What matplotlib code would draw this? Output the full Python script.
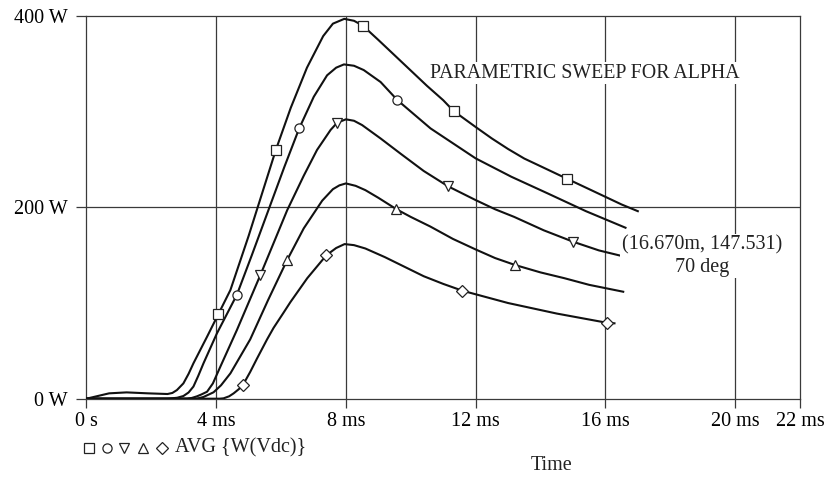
import matplotlib
matplotlib.use("Agg")
import matplotlib.pyplot as plt
from matplotlib.lines import Line2D

plt.rcParams['font.family'] = ['Liberation Serif', 'DejaVu Serif']

# ---- data (time in ms, power in W) ----
t_sq = [0, 0.7, 1.24, 1.9, 2.5, 2.65, 2.79, 2.99, 3.15, 3.3, 3.72, 4.07, 4.44, 5.0, 5.84, 6.3, 6.8, 7.3,
        7.6, 7.95, 8.25, 8.52, 9.0, 9.5, 10.0, 10.5, 11.0, 11.32, 12.0, 12.5, 13.0, 13.5, 14.0, 14.81,
        15.5, 16.0, 16.5, 17.0]
p_sq = [0, 5.6, 6.6, 5.6, 4.9, 6, 9, 16, 26, 37, 64.8, 88.5, 113.6, 170, 260, 304, 346, 379,
        392, 397, 395, 390, 375, 359, 343, 327, 312, 300.7, 284, 272, 261, 251, 243, 230,
        219, 211, 203, 196]
mt_sq = [4.07, 5.84, 8.52, 11.32, 14.81]
mp_sq = [88.5, 260, 390, 300.7, 229.9]

t_ci = [0, 2.5, 2.6, 2.8, 2.99, 3.15, 3.30, 3.45, 3.61, 4.02, 4.64, 5.1, 5.6, 6.1, 6.56, 7.01, 7.42,
        7.7, 7.94, 8.25, 8.55, 9.07, 9.59, 10.61, 12.0, 13.1, 14.22, 15.4, 16.62]
p_ci = [0, 0, 0.3, 1, 2.8, 6.5, 12.7, 24, 37, 68, 108.7, 150, 196, 242, 282.5, 315.6, 338,
        346, 349.4, 348, 343.5, 331, 312, 282.5, 251.2, 232, 214.6, 196, 178.7]
mt_ci = [4.64, 6.56, 9.59]
mp_ci = [108.7, 282.5, 312]

t_dt = [0, 3.1, 3.25, 3.41, 3.55, 3.72, 3.9, 4.13, 4.64, 5.36, 5.8, 6.19, 6.7, 7.11, 7.53, 7.73, 8.0,
        8.25, 8.5, 9.07, 9.69, 10.4, 11.15, 12.0, 12.6, 13.19, 14.1, 15.01, 15.8, 16.67]
p_dt = [0, 0, 0.8, 2.5, 4.5, 7.3, 16, 33.5, 71.8, 129, 165, 197, 233, 260, 281, 288.4, 292,
        290.5, 286, 272, 256, 238, 222, 207.6, 198, 190, 176, 164, 155, 147.8]
mt_dt = [5.36, 7.73, 11.15, 15.01]
mp_dt = [129, 288.4, 222, 164]

t_ut = [0, 3.4, 3.61, 3.92, 4.15, 4.44, 5.05, 5.6, 6.19, 6.7, 7.27, 7.6, 7.8, 8.0, 8.3, 8.6, 9.0,
        9.56, 10.0, 10.6, 11.3, 12.0, 12.6, 13.22, 14.0, 14.73, 15.5, 16.55]
p_ut = [0, 0, 1.8, 6.7, 14, 26.5, 62, 103, 145, 178, 207, 219, 223, 225, 222.5, 218, 210,
        198, 190, 180, 167, 156, 147, 139.7, 132, 126, 119, 111.8]
mt_ut = [6.19, 9.56, 13.22]
mp_ut = [145, 198, 139.7]

t_di = [0, 4.1, 4.23, 4.4, 4.54, 4.7, 4.83, 5.05, 5.26, 5.57, 5.77, 6.08, 6.29, 6.81, 7.4, 7.7, 7.96,
        8.25, 8.6, 9.2, 9.8, 10.4, 11.0, 11.59, 13.0, 14.5, 16.04, 16.28]
p_di = [0, 0, 0.4, 2.5, 5.6, 10, 14.6, 28, 42, 62, 74, 90, 101, 126, 150, 157.5, 161.6,
        160.5, 157, 148, 138, 128, 120, 112.9, 100, 89, 79.4, 78.8]
mt_di = [4.83, 7.4, 11.59, 16.04]
mp_di = [14.6, 150, 112.9, 79.4]

x_ticks = [0, 4, 8, 12, 16, 20, 22]
x_labels = ["0 s", "4 ms", "8 ms", "12 ms", "16 ms", "20 ms", "22 ms"]
y_ticks = [0, 200, 400]
y_labels = ["0 W", "200 W", "400 W"]

W, H = 838, 479
fig = plt.figure(figsize=(W / 100, H / 100), dpi=100)
ax = fig.add_axes([86.4 / W, 1 - 398.7 / H, (800 - 86.4) / W, (398.7 - 16) / H])
ax.set_xlim(0, 22)
ax.set_ylim(0, 400)

gc = '#3a3a3a'
for x in [4, 8, 12, 16, 20]:
    ax.axvline(x, color=gc, lw=0.9, zorder=1)
ax.axhline(200, color=gc, lw=0.9, zorder=1)
for s in ax.spines.values():
    s.set_color(gc)
    s.set_linewidth(0.9)

series = [(t_sq, p_sq, mt_sq, mp_sq, 's'),
          (t_ci, p_ci, mt_ci, mp_ci, 'o'),
          (t_dt, p_dt, mt_dt, mp_dt, 'v'),
          (t_ut, p_ut, mt_ut, mp_ut, '^'),
          (t_di, p_di, mt_di, mp_di, 'D')]
msz = {'s': 6.6, 'o': 6.6, 'v': 7.0, '^': 7.0, 'D': 6.0}
for t, p, mt, mp, m in series:
    ax.plot(t, p, color='#111111', lw=1.5, zorder=3, solid_joinstyle='round')
    ax.plot(mt, mp, ls='none', marker=m, ms=msz[m], mfc='white', mec='#222222',
            mew=0.9, zorder=4)

ax.set_xticks(x_ticks)
ax.set_xticklabels(x_labels)
ax.set_yticks(y_ticks)
ax.set_yticklabels(y_labels)
ax.tick_params(axis='x', length=6.5, width=0.9, color=gc, pad=3, labelsize=14.5)
ax.tick_params(axis='y', length=7.2, width=0.9, color=gc, pad=6, labelsize=14.5)

fig.text(430 / W, 1 - 73 / H, "PARAMETRIC SWEEP FOR ALPHA", fontsize=14.3, ha='left', va='center',
         color='#222222', bbox=dict(facecolor='white', edgecolor='none', pad=1))
fig.text(702 / W, 1 - 256 / H, "(16.670m, 147.531)\n70 deg", fontsize=14.5, ha='center', va='center',
         color='#222222', linespacing=1.25, bbox=dict(facecolor='white', edgecolor='none', pad=1))

# legend-like row below the axis
leg_x = [89, 107, 124, 143, 162]
leg_m = ['s', 'o', 'v', '^', 'D']
for x, m in zip(leg_x, leg_m):
    fig.add_artist(Line2D([x / W], [1 - 448 / H], marker=m, ms=msz[m], mfc='white',
                          mec='#222222', mew=0.9, ls='none', transform=fig.transFigure))
fig.text(175 / W, 1 - 448 / H, "AVG {W(Vdc)}", fontsize=14.5, ha='left', va='center', color='#222222')
fig.text(552 / W, 1 - 466 / H, "Time", fontsize=14.5, ha='center', va='center', color='#222222')

fig.savefig("out.png", dpi=100)
